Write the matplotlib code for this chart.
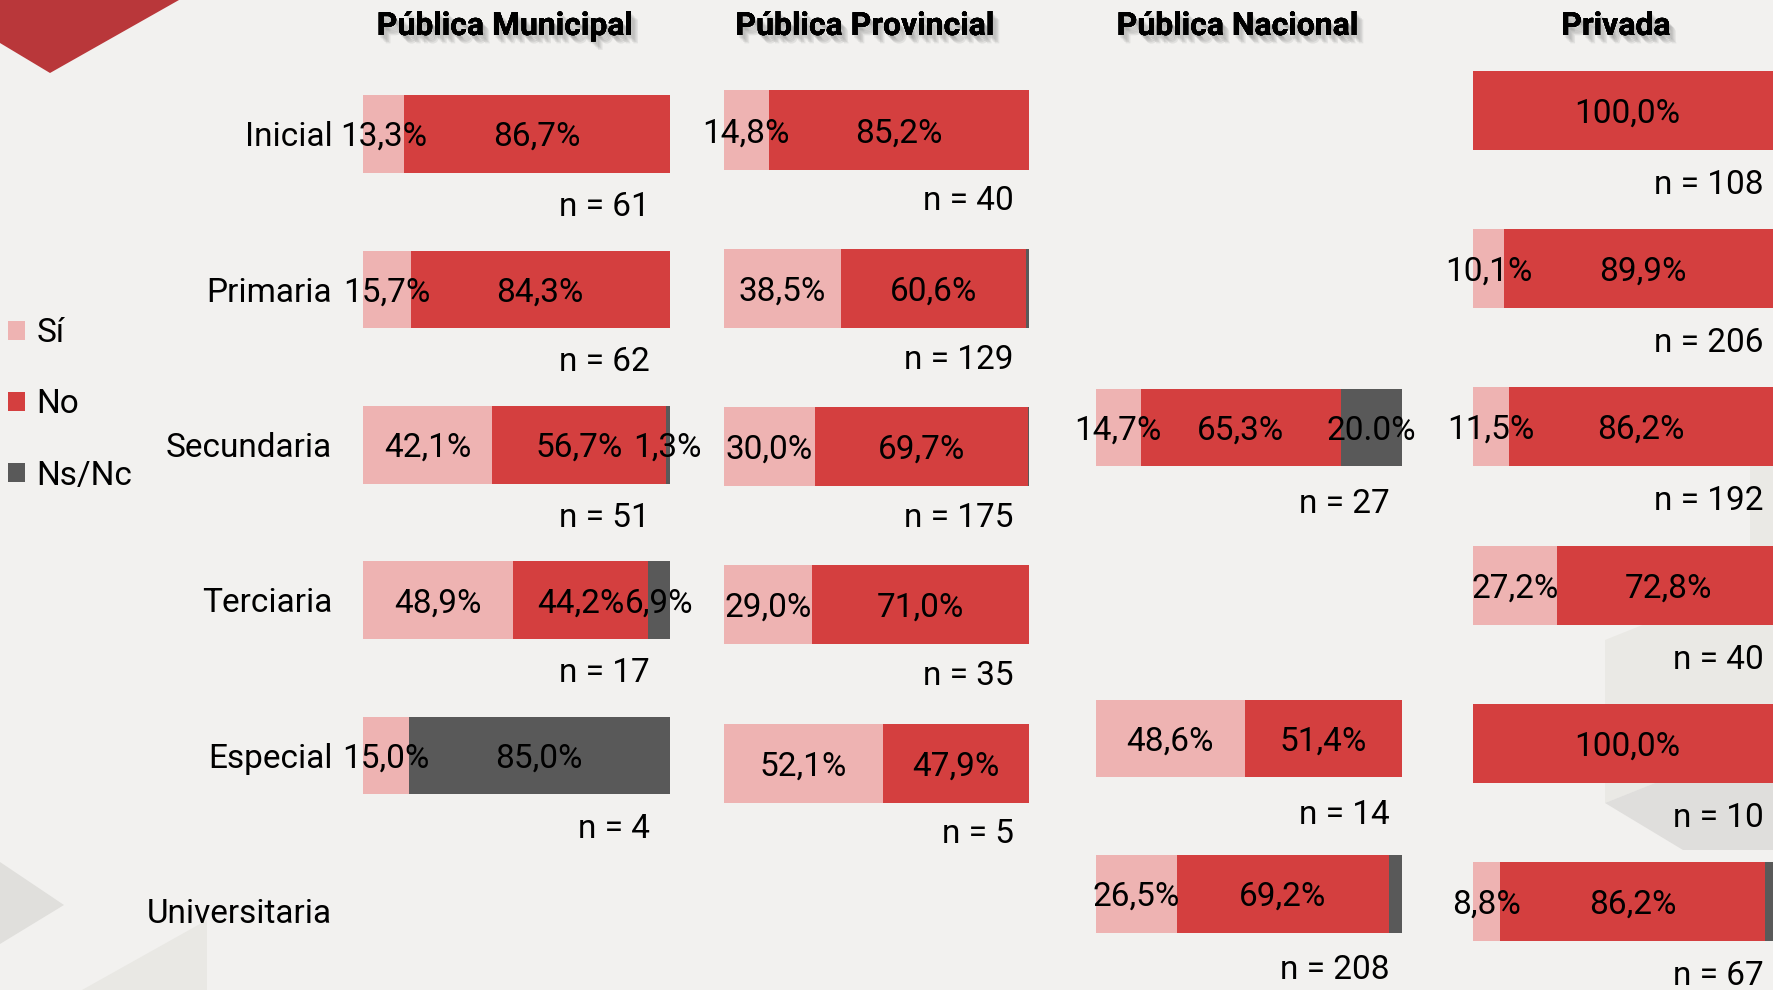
import numpy as np
import matplotlib
matplotlib.use('Agg')
import matplotlib.pyplot as plt
import matplotlib.patheffects as pe
from matplotlib import font_manager
from matplotlib.patches import Patch, Polygon
from matplotlib.transforms import blended_transform_factory

nan = np.nan

# ---------------------- DATA ----------------------
levels = ['Inicial', 'Primaria', 'Secundaria', 'Terciaria', 'Especial', 'Universitaria']
panels = ['Pública Municipal', 'Pública Provincial', 'Pública Nacional', 'Privada']
series = ['Sí', 'No', 'Ns/Nc']

muni_si = [13.3, 15.7, 42.1, 48.9, 15.0, nan]
muni_no = [86.7, 84.3, 56.7, 44.2, 0.0, nan]
muni_ns = [0.0, 0.0, 1.3, 6.9, 85.0, nan]
muni_ns_lab = [None, None, '1,3%', '6,9%', '85,0%', None]
muni_n = [61, 62, 51, 17, 4, None]

prov_si = [14.8, 38.5, 30.0, 29.0, 52.1, nan]
prov_no = [85.2, 60.6, 69.7, 71.0, 47.9, nan]
prov_ns = [0.0, 0.9, 0.3, 0.0, 0.0, nan]
prov_ns_lab = [None, None, None, None, None, None]
prov_n = [40, 129, 175, 35, 5, None]

nac_si = [nan, nan, 14.7, nan, 48.6, 26.5]
nac_no = [nan, nan, 65.3, nan, 51.4, 69.2]
nac_ns = [nan, nan, 20.0, nan, 0.0, 4.3]
nac_ns_lab = [None, None, '20.0%', None, None, None]
nac_n = [None, None, 27, None, 14, 208]

priv_si = [0.0, 10.1, 11.5, 27.2, 0.0, 8.8]
priv_no = [100.0, 89.9, 86.2, 72.8, 100.0, 86.2]
priv_ns = [0.0, 0.0, 2.3, 0.0, 0.0, 5.0]
priv_ns_lab = [None, None, None, None, None, None]
priv_n = [108, 206, 192, 40, 10, 67]

# ---------------------- STYLE ----------------------
def pick_font(names):
    for name in names:
        try:
            font_manager.findfont(name, fallback_to_default=False)
            return name
        except ValueError:
            pass
    return 'DejaVu Sans'

font = pick_font(['Liberation Sans Narrow', 'Roboto', 'Liberation Sans'])
plt.rcParams['font.family'] = [font, 'DejaVu Sans']

W, H = 1773, 990
bg = '#F2F1EF'
c_si, c_no, c_ns = '#EEB3B2', '#D43F3F', '#595959'
fs = 24

fig = plt.figure(figsize=(W / 100, H / 100), dpi=100, facecolor=bg)

# background decoration (pixel coordinates)
deco = fig.add_axes([0, 0, 1, 1], zorder=-5)
deco.set_xlim(0, W)
deco.set_ylim(H, 0)
deco.axis('off')
deco.add_patch(Polygon([(0, 0), (179, 0), (50, 73), (0, 43)], closed=True, color='#B9373A', lw=0))
deco.add_patch(Polygon([(0, 862), (64, 905), (0, 944)], closed=True, color='#E0DFDC', lw=0))
deco.add_patch(Polygon([(82, 990), (207, 920), (207, 990)], closed=True, color='#E9E8E4', lw=0))
deco.add_patch(Polygon([(1605, 640), (1650, 622), (1773, 622), (1773, 765), (1700, 765), (1605, 803)],
                       closed=True, color='#EAE9E5', lw=0))
deco.add_patch(Polygon([(1605, 803), (1700, 765), (1773, 765), (1773, 850), (1683, 850)],
                       closed=True, color='#DFDEDC', lw=0))
deco.add_patch(Polygon([(1750, 450), (1773, 450), (1773, 622), (1750, 622)],
                       closed=True, color='#EAE9E5', lw=0))

# panel geometry in pixels: bar left, bar right, first row centre, row spacing
geom = [
    (363.0, 669.5, 134.0, 155.4),
    (723.6, 1029.0, 130.0, 158.3),
    (1095.6, 1402.0, 116.5, 155.5),
    (1473.3, 1780.8, 110.2, 158.3),
]
data = [
    (muni_si, muni_no, muni_ns, muni_ns_lab, muni_n, 93.7, 0.47),
    (prov_si, prov_no, prov_ns, prov_ns_lab, prov_n, 95.0, 0.45),
    (nac_si, nac_no, nac_ns, nac_ns_lab, nac_n, 96.0, 0.49),
    (priv_si, priv_no, priv_ns, priv_ns_lab, priv_n, 94.5, 0.47),
]


def fmt(v):
    return f"{v:.1f}%".replace('.', ',')


shadow = [pe.withSimplePatchShadow(offset=(d, -d - 1), shadow_rgbFace='#555555', alpha=0.10)
          for d in (1, 2, 3, 4, 5)] + [pe.Normal()]

dy = 0.02  # small downward nudge for text centring

axes = []
for title, (x0, x1, y0, sp), (si, no, ns, ns_lab, nn, nx, noff) in zip(panels, geom, data):
    ax = fig.add_axes([x0 / W, 0, (x1 - x0) / W, 1])
    ax.set_xlim(0, 100)
    ax.set_ylim((H - y0) / sp, (0 - y0) / sp)
    ax.axis('off')
    ax.patch.set_alpha(0)
    axes.append(ax)

    si = np.array(si)
    no = np.array(no)
    ns = np.array(ns)
    y = np.arange(len(levels))
    ok = ~np.isnan(si)
    ax.barh(y[ok], si[ok], height=0.5, color=c_si, lw=0)
    ax.barh(y[ok], no[ok], left=si[ok], height=0.5, color=c_no, lw=0)
    ax.barh(y[ok], ns[ok], left=si[ok] + no[ok], height=0.5, color=c_ns, lw=0)

    for i in y[ok]:
        if si[i] > 0:
            ax.text(si[i] / 2, i + dy, fmt(si[i]), ha='center', va='center', fontsize=fs, clip_on=False)
        if no[i] > 0:
            ax.text(si[i] + no[i] / 2, i + dy, fmt(no[i]), ha='center', va='center', fontsize=fs,
                    clip_on=False)
        if ns_lab[i]:
            ax.text(si[i] + no[i] + ns[i] / 2, i + dy, ns_lab[i], ha='center', va='center',
                    fontsize=fs, clip_on=False)
        if nn[i] is not None:
            ax.text(nx, i + noff, f"n = {nn[i]}", ha='right', va='center', fontsize=fs, clip_on=False)

    tr = blended_transform_factory(ax.transData, fig.transFigure)
    ax.text(46.5, 1 - 26 / H, title, transform=tr, ha='center', va='center', fontsize=23,
            fontweight='bold', clip_on=False, path_effects=shadow)

# row labels on the first panel
for i, lev in enumerate(levels):
    axes[0].text(-10, i + dy, lev, ha='right', va='center', fontsize=fs, clip_on=False)

# legend
handles = [Patch(facecolor=c, edgecolor='none') for c in (c_si, c_no, c_ns)]
fig.legend(handles, series, loc='upper left', bbox_to_anchor=(8 / W, 1 - 317 / H),
           frameon=False, fontsize=fs, handlelength=0.5, handleheight=0.5,
           handletextpad=0.35, labelspacing=1.18, borderpad=0, borderaxespad=0)

plt.savefig('out.png', dpi=100, facecolor=bg)
plt.close()
